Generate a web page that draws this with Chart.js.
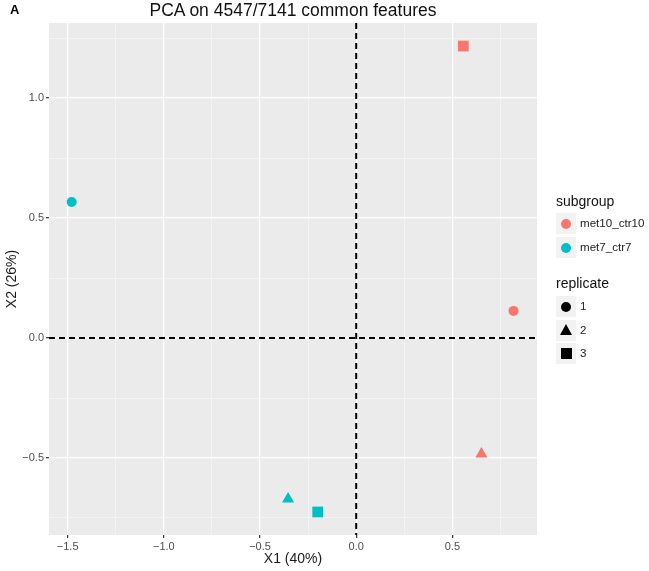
<!DOCTYPE html>
<html>
<head>
<meta charset="utf-8">
<script src="https://cdn.jsdelivr.net/npm/chart.js@4.4.1/dist/chart.umd.min.js"></script>
<style>
  body { margin: 0; background: #fff; font-family: "Liberation Sans", Arial, sans-serif; }
  #wrap { position: relative; width: 649px; height: 571px; }
  #title { position: absolute; left: 49px; width: 488px; top: 0; text-align: center; font-size: 17.5px; color: #111; line-height: 20px; }
  #tag { position: absolute; left: 10px; top: 1px; font-size: 13px; font-weight: bold; color: #000; line-height: 18px; }
  .lg-title { position: absolute; left: 556px; font-size: 14px; color: #111; line-height: 16px; }
  .lg-item { position: absolute; left: 556px; height: 21px; }
  .lg-key { position: absolute; left: 0; top: 0; width: 20px; height: 21px; background: #f2f2f2; }
  .lg-text { position: absolute; left: 24px; top: 3px; font-size: 11.6px; color: #222; line-height: 14px; white-space: nowrap; }
  .shape { position: absolute; }
</style>
</head>
<body>
<div id="wrap">
  <canvas id="chart" width="649" height="571"></canvas>
  <div id="tag">A</div>
  <div id="title"></div>
  <div id="legend"></div>
</div>
<script>
/* DATA */
const chartTitle = 'PCA on 4547/7141 common features'
const subgroups = ['met10_ctr10', 'met7_ctr7']
const subgroupColors = ['#F8766D', '#00BFC4']
const replicates = ['1', '2', '3']
const replicateShapes = ['circle', 'triangle', 'rect']

// one value per replicate (1, 2, 3)
const met10X = [0.818, 0.651, 0.557]
const met10Y = [0.113, -0.483, 1.217]
const met7X = [-1.479, -0.354, -0.200]
const met7Y = [0.567, -0.671, -0.725]

const xRange = [-1.597, 0.94]
const yRange = [-0.821, 1.313]
const xTitle = 'X1 (40%)'
const yTitle = 'X2 (26%)'

/* HELPERS */
const isMajor = (v) => Math.abs(v * 2 - Math.round(v * 2)) < 1e-6
const fmt = (v) => (v < 0 ? '\u2212' : '') + Math.abs(v).toFixed(1)
const shapeRadius = { circle: 5, triangle: 7, rect: 7.6 }

function toPoints(xs, ys) {
  return xs.map((x, i) => ({ x: x, y: ys[i] }))
}

/* PLUGINS */
const panelBg = {
  id: 'panelBg',
  beforeDraw(chart) {
    const { ctx, chartArea: a } = chart
    ctx.save()
    ctx.fillStyle = '#EBEBEB'
    ctx.fillRect(a.left, a.top, a.right - a.left, a.bottom - a.top)
    ctx.restore()
  }
}

const zeroLines = {
  id: 'zeroLines',
  afterDatasetsDraw(chart) {
    const { ctx, chartArea: a, scales } = chart
    const x0 = scales.x.getPixelForValue(0)
    const y0 = scales.y.getPixelForValue(0)
    ctx.save()
    ctx.strokeStyle = '#000'
    ctx.lineWidth = 2
    ctx.setLineDash([6, 4])
    ctx.beginPath()
    ctx.moveTo(a.left, y0)
    ctx.lineTo(a.right, y0)
    ctx.moveTo(x0, a.top)
    ctx.lineTo(x0, a.bottom)
    ctx.stroke()
    ctx.restore()
  }
}

/* CHART */
const gridOpts = {
  color: (c) => isMajor(c.tick.value) ? '#FFFFFF' : '#F6F6F6',
  lineWidth: (c) => isMajor(c.tick.value) ? 1.3 : 0.7,
  tickColor: (c) => isMajor(c.tick.value) ? '#333333' : 'rgba(0,0,0,0)',
  tickLength: 3,
  tickWidth: 1.2
}
const tickFont = { family: '"Liberation Sans", Arial, sans-serif', size: 11 }
const axisTitleFont = { family: '"Liberation Sans", Arial, sans-serif', size: 14 }

new Chart(document.getElementById('chart'), {
  type: 'scatter',
  data: {
    datasets: [
      {
        label: subgroups[0],
        data: toPoints(met10X, met10Y),
        backgroundColor: subgroupColors[0],
        borderColor: subgroupColors[0],
        borderWidth: 0,
        pointStyle: replicateShapes,
        pointRadius: replicateShapes.map(s => shapeRadius[s])
      },
      {
        label: subgroups[1],
        data: toPoints(met7X, met7Y),
        backgroundColor: subgroupColors[1],
        borderColor: subgroupColors[1],
        borderWidth: 0,
        pointStyle: replicateShapes,
        pointRadius: replicateShapes.map(s => shapeRadius[s])
      }
    ]
  },
  options: {
    responsive: false,
    animation: false,
    layout: { padding: { left: 0, right: 112, top: 23, bottom: 0 } },
    plugins: {
      legend: { display: false },
      tooltip: { enabled: false }
    },
    scales: {
      x: {
        type: 'linear',
        min: xRange[0],
        max: xRange[1],
        border: { display: false },
        grid: gridOpts,
        ticks: {
          stepSize: 0.25,
          includeBounds: false,
          autoSkip: false,
          maxRotation: 0,
          padding: 2,
          color: '#4D4D4D',
          font: tickFont,
          callback: (v) => isMajor(v) ? fmt(v) : ''
        },
        title: { display: true, text: xTitle, color: '#1a1a1a', font: axisTitleFont, padding: { top: 0, bottom: 3 } },
        afterFit(scale) { scale.height = 36 }
      },
      y: {
        type: 'linear',
        min: yRange[0],
        max: yRange[1],
        border: { display: false },
        grid: gridOpts,
        ticks: {
          stepSize: 0.25,
          includeBounds: false,
          autoSkip: false,
          padding: 2,
          color: '#4D4D4D',
          font: tickFont,
          callback: (v) => isMajor(v) ? fmt(v) : ''
        },
        title: { display: true, text: yTitle, color: '#1a1a1a', font: axisTitleFont, padding: { top: 4, bottom: 0 } },
        afterFit(scale) { scale.width = 49 }
      }
    }
  },
  plugins: [panelBg, zeroLines]
})

/* TITLE + LEGEND (html) */
document.getElementById('title').textContent = chartTitle

function shapeHtml(shape, color) {
  if (shape === 'circle')
    return `<div class="shape" style="left:5px;top:5.5px;width:10px;height:10px;border-radius:50%;background:${color}"></div>`
  if (shape === 'triangle')
    return `<div class="shape" style="left:3.5px;top:4.5px;width:0;height:0;border-left:6.5px solid transparent;border-right:6.5px solid transparent;border-bottom:11px solid ${color}"></div>`
  return `<div class="shape" style="left:4.5px;top:5px;width:11px;height:11px;background:${color}"></div>`
}

let html = ''
html += `<div class="lg-title" style="top:193px">subgroup</div>`
subgroups.forEach((s, i) => {
  html += `<div class="lg-item" style="top:${213 + i * 24}px"><div class="lg-key">${shapeHtml('circle', subgroupColors[i])}</div><div class="lg-text">${s}</div></div>`
})
html += `<div class="lg-title" style="top:275px">replicate</div>`
replicates.forEach((r, i) => {
  html += `<div class="lg-item" style="top:${296 + i * 23.5}px"><div class="lg-key">${shapeHtml(replicateShapes[i], '#000')}</div><div class="lg-text">${r}</div></div>`
})
document.getElementById('legend').innerHTML = html
</script>
</body>
</html>
